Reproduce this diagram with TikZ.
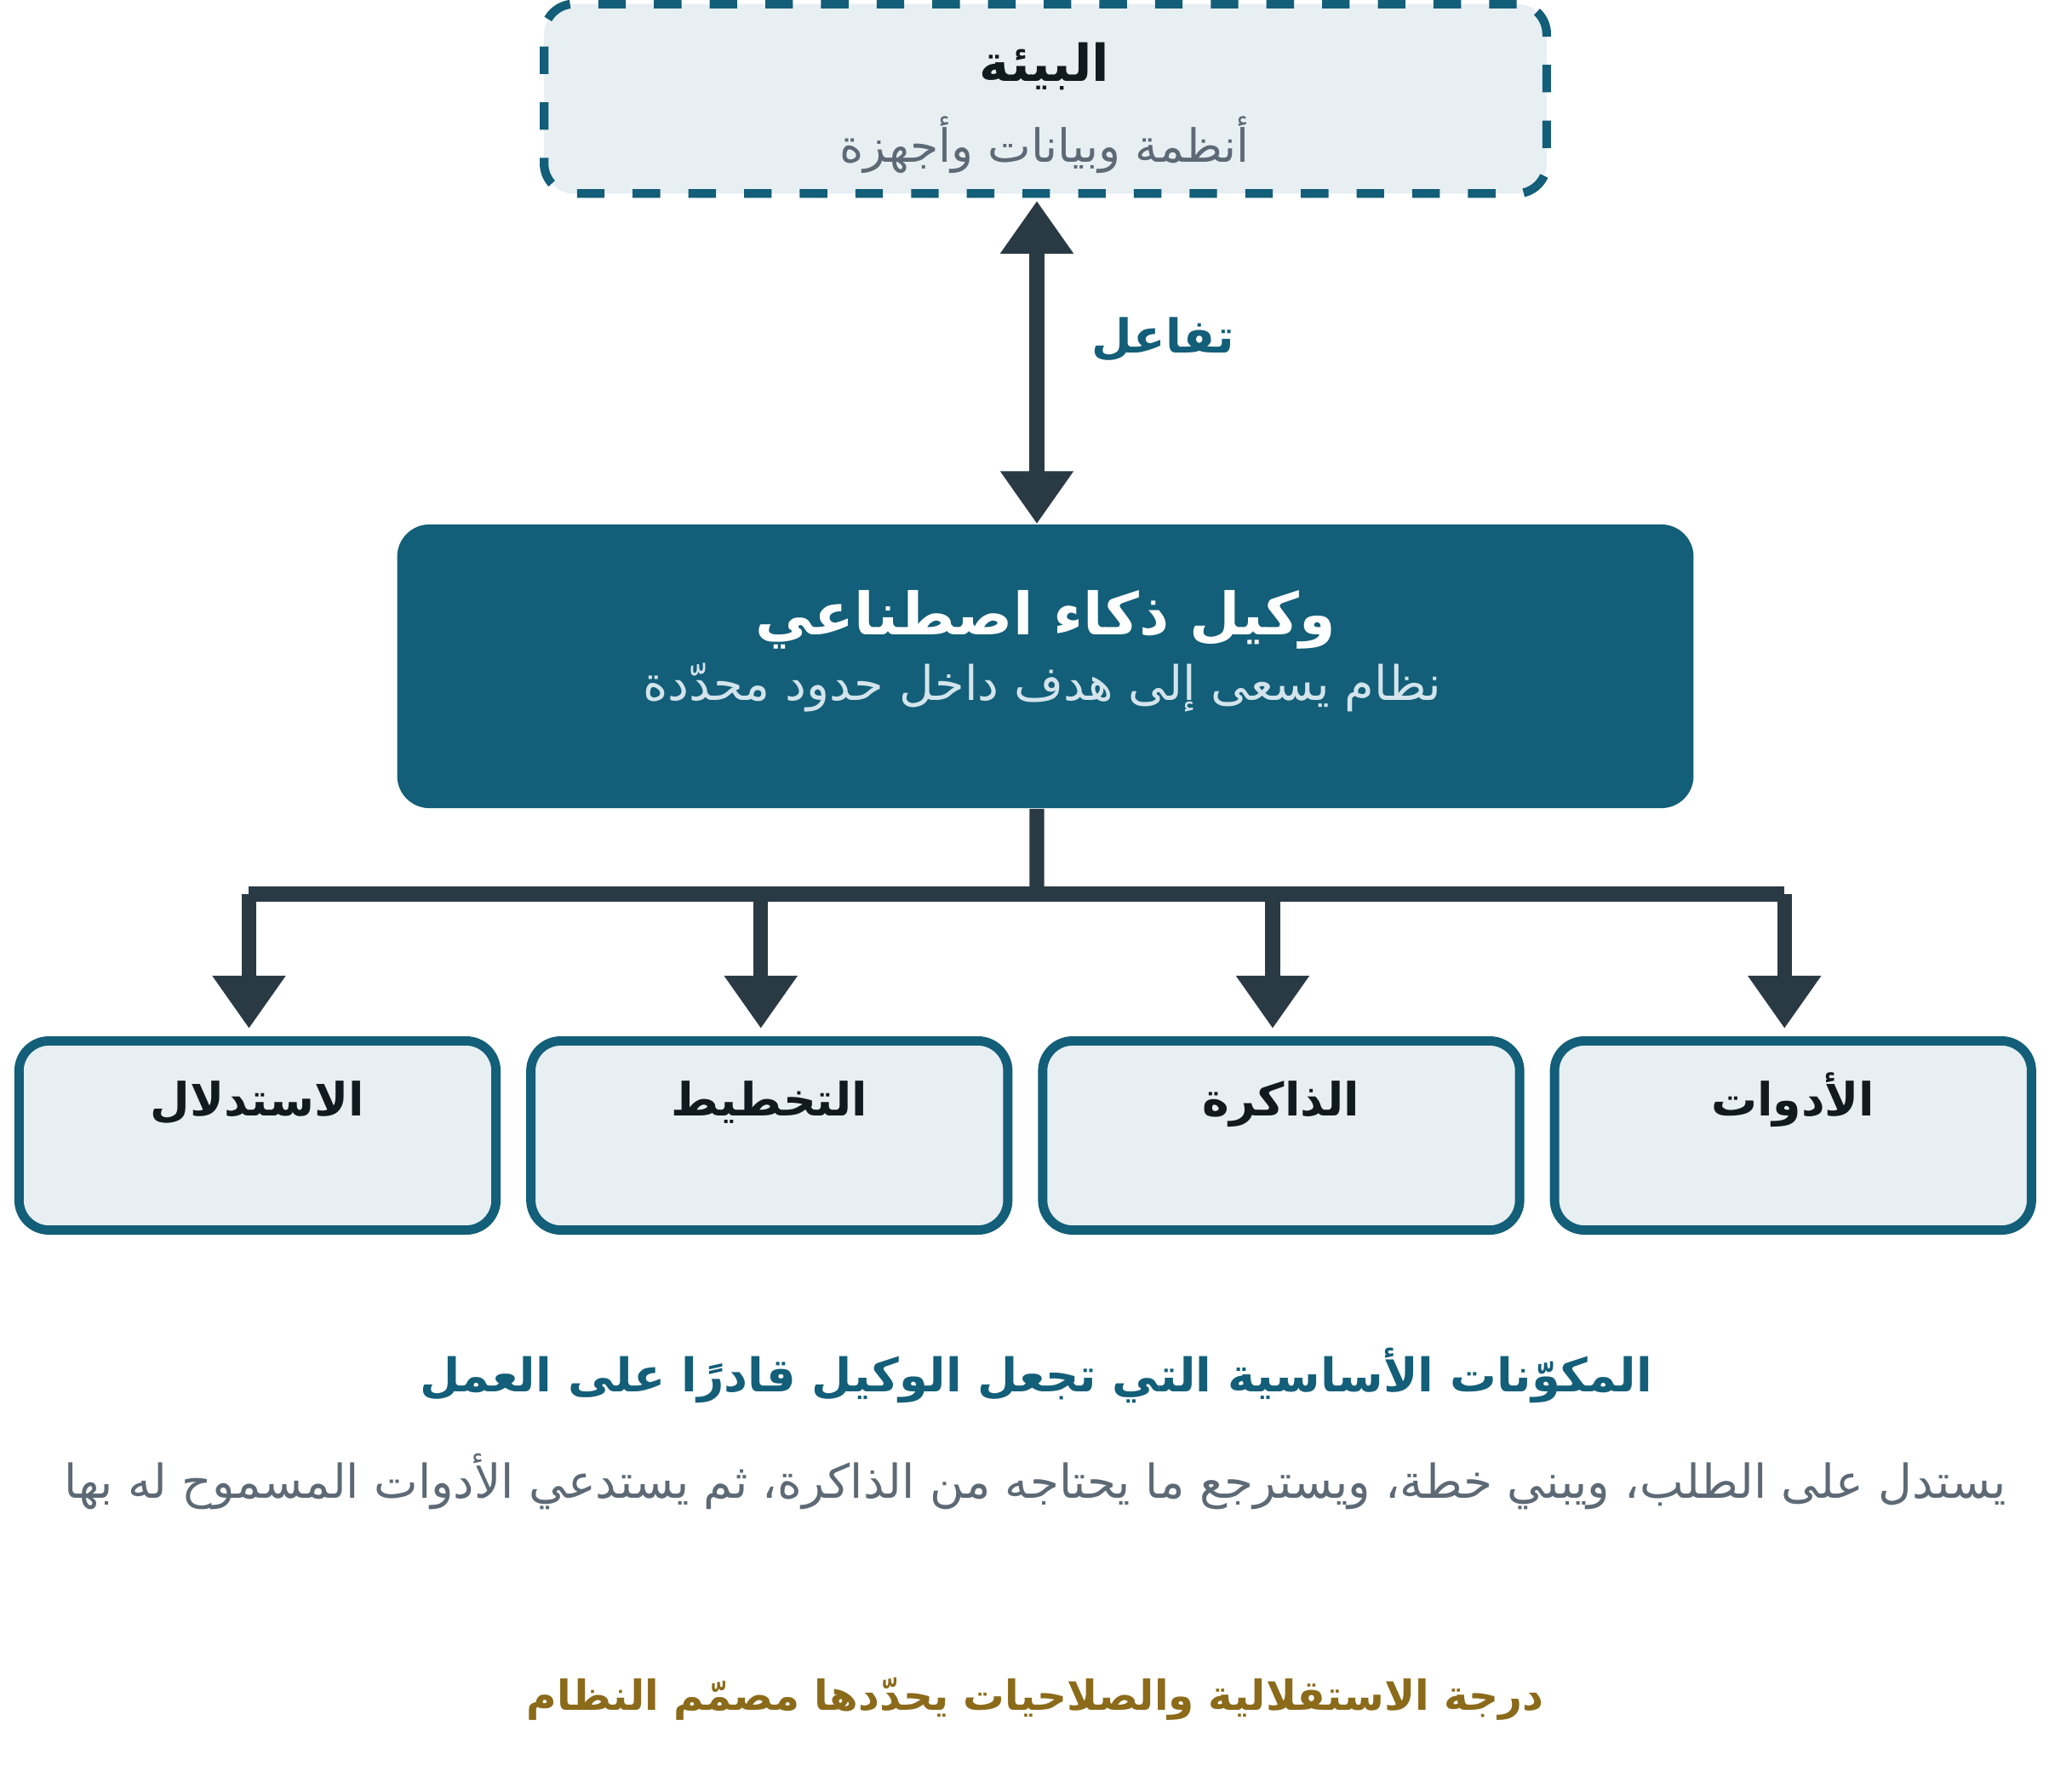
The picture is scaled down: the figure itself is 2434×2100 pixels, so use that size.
\documentclass[tikz,border=0pt]{standalone}
\usepackage{fontspec}
\TeXXeTstate=1
\newfontfamily\arabicfont[Script=Arabic]{DejaVu Sans}
\usetikzlibrary{arrows.meta,positioning}
\definecolor{agentblue}{HTML}{135E78}
\definecolor{panelfill}{HTML}{E7EFF3}
\definecolor{linkdark}{HTML}{2A3A45}
\definecolor{subgray}{HTML}{5D6A75}
\definecolor{sublight}{HTML}{D3E4EC}
\definecolor{notegold}{HTML}{8B6A1A}
\definecolor{inkdark}{HTML}{111A1E}
\tikzset{
    envbox/.style={
           rectangle,
           rounded corners=10pt,
           draw=agentblue, fill=panelfill,
           line width=2.9pt, dash pattern=on 9.2pt off 9.4pt,
           minimum width=11.77cm, minimum height=2.225cm,
           },
    agentbox/.style={
           rectangle,
           rounded corners=10.8pt,
           fill=agentblue,
           minimum width=15.22cm, minimum height=3.33cm,
           },
    partbox/.style={
           rectangle,
           rounded corners=10pt,
           draw=agentblue, fill=panelfill, line width=3.1pt,
           minimum width=5.6cm, minimum height=2.22cm,
           },
    link/.style={draw=linkdark, line width=4.9pt},
    tip/.style={-{Triangle[width=23.3pt,length=17.6pt]}},
    both tips/.style={{Triangle[width=23.3pt,length=17.6pt]}-{Triangle[width=23.3pt,length=17.6pt]}},
    boxtitle/.style={anchor=base, inner sep=0pt, text=inkdark, font=\arabicfont\bfseries\fontsize{17pt}{20pt}\selectfont},
    boxsub/.style={anchor=base, inner sep=0pt, text=subgray, font=\arabicfont\fontsize{15.3pt}{18pt}\selectfont},
    parttitle/.style={boxtitle, font=\arabicfont\bfseries\fontsize{15.3pt}{18pt}\selectfont},
}
\newcommand{\ar}[1]{\beginR #1\endR}

\begin{document}
\begin{tikzpicture}[x=0.01cm, y=-0.01cm]
  \path[use as bounding box, fill=white] (0,0) rectangle (2434,2100);
  % environment and agent
  \node[envbox]   (env)   at (1228, 116) {};
  \node[boxtitle] (envT)  at (1227, 96)  {\ar{البيئة}};
  \node[boxsub]   (envS)  at (1227, 191) {\ar{أنظمة وبيانات وأجهزة}};
  \node[agentbox] (agent) at (1228, 782.5) {};
  \node[boxtitle, text=white, font=\arabicfont\bfseries\fontsize{19.5pt}{23pt}\selectfont] (agentT) at (1228, 745) {\ar{وكيل ذكاء اصطناعي}};
  \node[boxsub, text=sublight, font=\arabicfont\fontsize{15.9pt}{19pt}\selectfont] (agentS) at (1224, 822) {\ar{نظام يسعى إلى هدف داخل حدود محدّدة}};
  % the four parts, left to right
  \node[partbox] (reason) at (302.5, 1333.5) {};
  \node[partbox, right=0.3cm of reason] (plan)   {};
  \node[partbox, right=0.3cm of plan]   (memory) {};
  \node[partbox, right=0.3cm of memory] (tools)  {};
  \node[parttitle] (reasonT) at (reason.center |- 0,1310) {\ar{الاستدلال}};
  \node[parttitle] (planT)   at (plan.center |- 0,1310)   {\ar{التخطيط}};
  \node[parttitle] (memoryT) at (memory.center |- 0,1310) {\ar{الذاكرة}};
  \node[parttitle] (toolsT)  at (tools.center |- 0,1310)  {\ar{الأدوات}};
  % connectors
  \draw[link, both tips, shorten <=1pt] ([xshift=-0.1cm]env.south) -- node[midway, right=0.56cm, yshift=0.25cm, inner sep=0pt, text=agentblue, font=\arabicfont\bfseries\fontsize{15.6pt}{19pt}\selectfont] (interact) {\ar{تفاعل}} ([xshift=-0.1cm]agent.north);
  \coordinate (bus) at (1218, 1050);
  \draw[link] ([xshift=-0.1cm]agent.south) -- (bus);
  \draw[link] ([xshift=-0.1cm]bus -| reason) -- ([xshift=-0.1cm]bus -| tools);
  \draw[link, tip, shorten >=2.6pt] ([xshift=-0.1cm]bus -| reason) -- ([xshift=-0.1cm]reason.north);
  \draw[link, tip, shorten >=2.6pt] ([xshift=-0.1cm]bus -| plan)   -- ([xshift=-0.1cm]plan.north);
  \draw[link, tip, shorten >=2.6pt] ([xshift=-0.1cm]bus -| memory) -- ([xshift=-0.1cm]memory.north);
  \draw[link, tip, shorten >=2.6pt] ([xshift=-0.1cm]bus -| tools)  -- ([xshift=-0.1cm]tools.north);
  % captions
  \node[boxtitle, text=agentblue, font=\arabicfont\bfseries\fontsize{15.5pt}{19pt}\selectfont] (heading) at (1217, 1634) {\ar{المكوّنات الأساسية التي تجعل الوكيل قادرًا على العمل}};
  \node[boxsub, font=\arabicfont\fontsize{15.6pt}{19pt}\selectfont] (desc) at (1216, 1759) {\ar{يستدل على الطلب، ويبني خطة، ويسترجع ما يحتاجه من الذاكرة، ثم يستدعي الأدوات المسموح له بها}};
  \node[boxtitle, text=notegold, font=\arabicfont\bfseries\fontsize{13.8pt}{17pt}\selectfont] (note) at (1216, 2008) {\ar{درجة الاستقلالية والصلاحيات يحدّدها مصمّم النظام}};
\end{tikzpicture}
\end{document}
